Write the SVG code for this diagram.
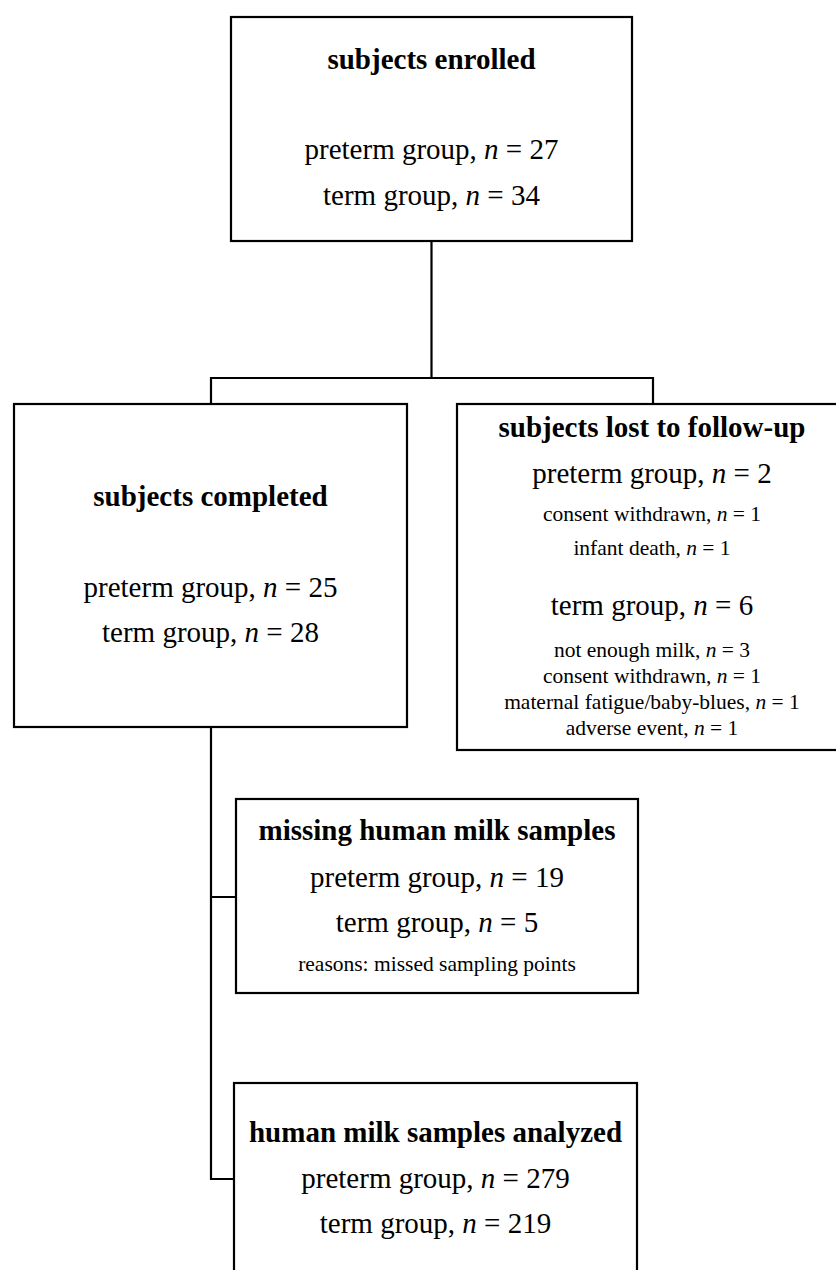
<svg xmlns="http://www.w3.org/2000/svg" width="836" height="1270" viewBox="0 0 836 1270">
<style>
.box{fill:#fff;stroke:#000;stroke-width:2.2}
.con{fill:none;stroke:#000;stroke-width:2.2;stroke-linejoin:miter;stroke-linecap:square}
text{font-family:"Liberation Serif","Times New Roman",serif;fill:#000;text-anchor:middle}
.b{font-weight:bold;font-size:29px}
.t{font-size:29px}
.s{font-size:21.5px}
.i{font-style:italic}
</style>
<rect width="836" height="1270" fill="#fff"/>
<g id="connectors">
<path class="con" d="M431.5 241 V378 M211 404 V378 H653 V404"/>
<path class="con" d="M211 727 V1179 H234 M211 897 H236"/>
</g>
<g id="enrolled">
<rect class="box" x="231" y="17" width="401" height="224"/>
<text class="b" x="431.5" y="69">subjects enrolled</text>
<text class="t" x="431.5" y="159">preterm group, <tspan class="i">n</tspan> = 27</text>
<text class="t" x="431.5" y="205">term group, <tspan class="i">n</tspan> = 34</text>
</g>
<g id="completed">
<rect class="box" x="14" y="404" width="393" height="323"/>
<text class="b" x="210.5" y="506">subjects completed</text>
<text class="t" x="210.5" y="597">preterm group, <tspan class="i">n</tspan> = 25</text>
<text class="t" x="210.5" y="642">term group, <tspan class="i">n</tspan> = 28</text>
</g>
<g id="lost">
<rect class="box" x="457" y="404" width="392" height="346"/>
<text class="b" x="652" y="437">subjects lost to follow-up</text>
<text class="t" x="652" y="483">preterm group, <tspan class="i">n</tspan> = 2</text>
<text class="s" x="652" y="521">consent withdrawn, <tspan class="i">n</tspan> = 1</text>
<text class="s" x="652" y="555">infant death, <tspan class="i">n</tspan> = 1</text>
<text class="t" x="652" y="615">term group, <tspan class="i">n</tspan> = 6</text>
<text class="s" x="652" y="657">not enough milk, <tspan class="i">n</tspan> = 3</text>
<text class="s" x="652" y="683">consent withdrawn, <tspan class="i">n</tspan> = 1</text>
<text class="s" x="652" y="709">maternal fatigue/baby-blues, <tspan class="i">n</tspan> = 1</text>
<text class="s" x="652" y="735">adverse event, <tspan class="i">n</tspan> = 1</text>
</g>
<g id="missing">
<rect class="box" x="236" y="799" width="402" height="194"/>
<text class="b" x="437" y="840">missing human milk samples</text>
<text class="t" x="437" y="887">preterm group, <tspan class="i">n</tspan> = 19</text>
<text class="t" x="437" y="932">term group, <tspan class="i">n</tspan> = 5</text>
<text class="s" x="437" y="971">reasons: missed sampling points</text>
</g>
<g id="analyzed">
<rect class="box" x="234" y="1083" width="403" height="200"/>
<text class="b" x="435.5" y="1142">human milk samples analyzed</text>
<text class="t" x="435.5" y="1188">preterm group, <tspan class="i">n</tspan> = 279</text>
<text class="t" x="435.5" y="1233">term group, <tspan class="i">n</tspan> = 219</text>
</g>
</svg>
